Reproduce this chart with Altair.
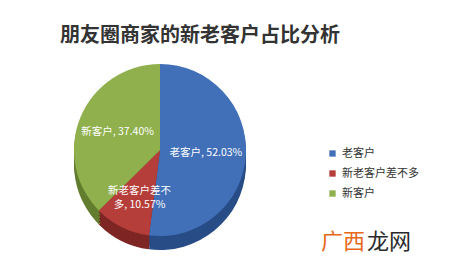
import altair as alt
import pandas as pd

FONT = "Noto Sans CJK SC"

title_text = "朋友圈商家的新老客户占比分析"
categories = ["老客户", "新老客户差不多", "新客户"]
values = [52.03, 10.57, 37.40]
labels = ["老客户, 52.03%", "新老客户差不\n多, 10.57%", "新客户, 37.40%"]
colors = ["#4170B8", "#B53D3A", "#8FB04C"]
side_colors = ["#284C86", "#7E2624", "#627D2E"]

df = pd.DataFrame({
    "cat": categories,
    "val": values,
    "label": labels,
    "order": list(range(len(categories))),
    "side": side_colors,
})

W, H = 450, 269
CX, CY, R, DEPTH = 160, 150, 86, 14

base = alt.Chart(df).encode(
    theta=alt.Theta("val:Q", stack=True),
    order=alt.Order("order:Q"),
)

sides = [
    base.mark_arc(radius=R).encode(
        x=alt.value(CX), y=alt.value(CY + d),
        color=alt.Color("side:N", scale=None),
    )
    for d in (DEPTH, 11, 8, 5, 2)
]

top = base.mark_arc(radius=R).encode(
    x=alt.value(CX), y=alt.value(CY),
    color=alt.Color(
        "cat:N",
        scale=alt.Scale(domain=categories, range=colors),
        legend=alt.Legend(
            title=None, orient="none", legendX=327, legendY=148,
            symbolType="square", symbolSize=40, symbolStrokeWidth=0,
            labelFont=FONT, labelFontSize=11, labelColor="#333333",
            rowPadding=8,
        ),
    ),
)

text = base.mark_text(
    radius=46, color="white", fontSize=10.5, font=FONT, lineBreak="\n", lineHeight=14,
).encode(x=alt.value(CX), y=alt.value(CY), text="label:N")

title = alt.Chart(pd.DataFrame({"t": [title_text]})).mark_text(
    font=FONT, fontSize=20, fontWeight="bold", color="#333333", align="center", baseline="middle",
).encode(text="t:N", x=alt.value(200), y=alt.value(36))

wm1 = alt.Chart(pd.DataFrame({"t": ["广西"]})).mark_text(
    font=FONT, fontSize=22, color="#E8681A", align="left", baseline="middle",
).encode(text="t:N", x=alt.value(321), y=alt.value(242))

wm2 = alt.Chart(pd.DataFrame({"t": ["龙网"]})).mark_text(
    font=FONT, fontSize=22, color="#2a2a2a", align="left", baseline="middle",
).encode(text="t:N", x=alt.value(367), y=alt.value(242))

chart = alt.layer(*sides, top, text, title, wm1, wm2).resolve_scale(
    color="independent"
).properties(
    width=W, height=H, padding=0, background="white",
    autosize=alt.AutoSizeParams(type="none"),
).configure_view(stroke=None)

chart.save("out.html", embed_options={"renderer": "svg", "actions": False})
